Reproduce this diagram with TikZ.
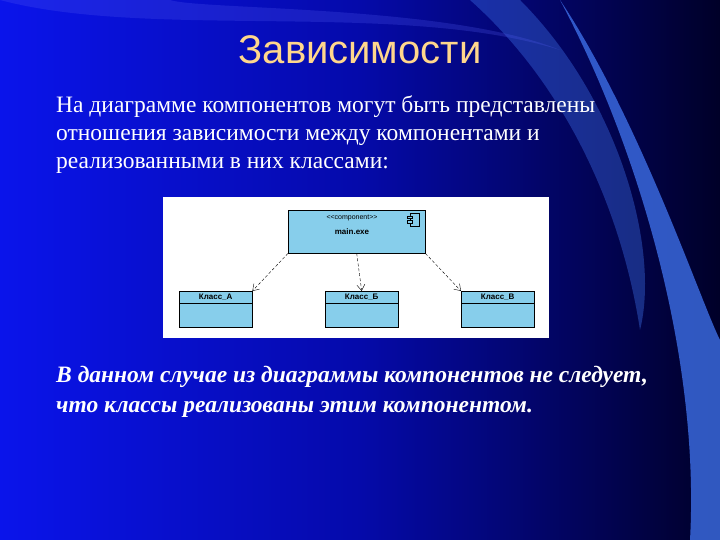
\documentclass[tikz,border=0pt]{standalone}
\usepackage{fontspec}
\setmainfont{Liberation Serif}
\newfontfamily\sans{Liberation Sans}
\usetikzlibrary{arrows.meta}
\definecolor{bgL}{RGB}{10,20,235}
\definecolor{bgR}{RGB}{0,0,40}
\definecolor{swoosh}{RGB}{60,110,230}
\definecolor{cbox}{RGB}{135,206,235}
\definecolor{titlec}{RGB}{255,215,140}
\tikzset{
 cls/.style={draw=black,fill=cbox,minimum width=73pt,minimum height=12pt,inner sep=0pt,font=\sans\bfseries\fontsize{8}{9}\selectfont},
 clsb/.style={draw=black,fill=cbox,minimum width=73pt,minimum height=36pt,inner sep=0pt},
 dep/.style={densely dashed,-{Straight Barb[length=6pt,width=8pt]},thin},
 body/.style={text=white,font=\fontsize{23.5}{28}\selectfont,align=left,anchor=north west,inner sep=0pt}
}
\begin{document}
\begin{tikzpicture}[x=1pt,y=-1pt]
\useasboundingbox (0,0) rectangle (720,540);
\shade[left color=bgL,right color=bgR,middle color={rgb,255:red,5;green,10;blue,170}] (0,0) rectangle (720,540);
\fill[swoosh,opacity=0.8] (560,0) .. controls (640,120) and (700,300) .. (720,340) -- (720,540) -- (690,540) .. controls (700,360) and (640,150) .. (560,0);
\fill[swoosh,opacity=0.4] (470,0) .. controls (560,80) and (620,200) .. (640,330) .. controls (660,250) and (620,100) .. (520,0) -- cycle;
\fill[bgL!70!white,opacity=0.25] (0,0) .. controls (150,40) and (400,0) .. (560,50) .. controls (450,5) and (200,10) .. (170,0) -- cycle;
\node[text=titlec,font=\sans\fontsize{40}{44}\selectfont] (title) at (360,50) {Зависимости};
\node[body] (intro) at (56,95) {На диаграмме компонентов могут быть представлены\\отношения зависимости между компонентами и\\реализованными в них классами:};
\node[fill=white,minimum width=386pt,minimum height=141pt,inner sep=0pt,anchor=north west] (panel) at (163,197) {};
\node[draw=black,fill=cbox,minimum width=137pt,minimum height=43pt,inner sep=0pt,anchor=north west] (comp) at (288,210) {};
\node[font=\sans\fontsize{7}{8}\selectfont] (st) at (352,218) {<<component>>};
\node[font=\sans\bfseries\fontsize{8}{9}\selectfont] (nm) at (352,232) {main.exe};
\draw[fill=cbox] (410,213) rectangle (419,226);
\draw[fill=cbox] (407,216) rectangle (412,218.5) (407,220.5) rectangle (412,223);
\foreach \n/\t/\x in {a/Класс\_А/179,b/Класс\_Б/325,c/Класс\_В/461}{
 \node[clsb,anchor=north west] (\n b) at (\x,291) {};
 \node[cls,anchor=north west] (\n) at (\x,291) {\t};
}
\draw[dep] (comp.south west) -- (a.north east);
\draw[dep] (comp.south) -- (b.north);
\draw[dep] (comp.south east) -- (c.north west);
\node[body,font=\bfseries\itshape\fontsize{23.5}{30}\selectfont] (concl) at (56,366) {В данном случае из диаграммы компонентов не следует,\\что классы реализованы этим компонентом.};
\end{tikzpicture}
\end{document}
